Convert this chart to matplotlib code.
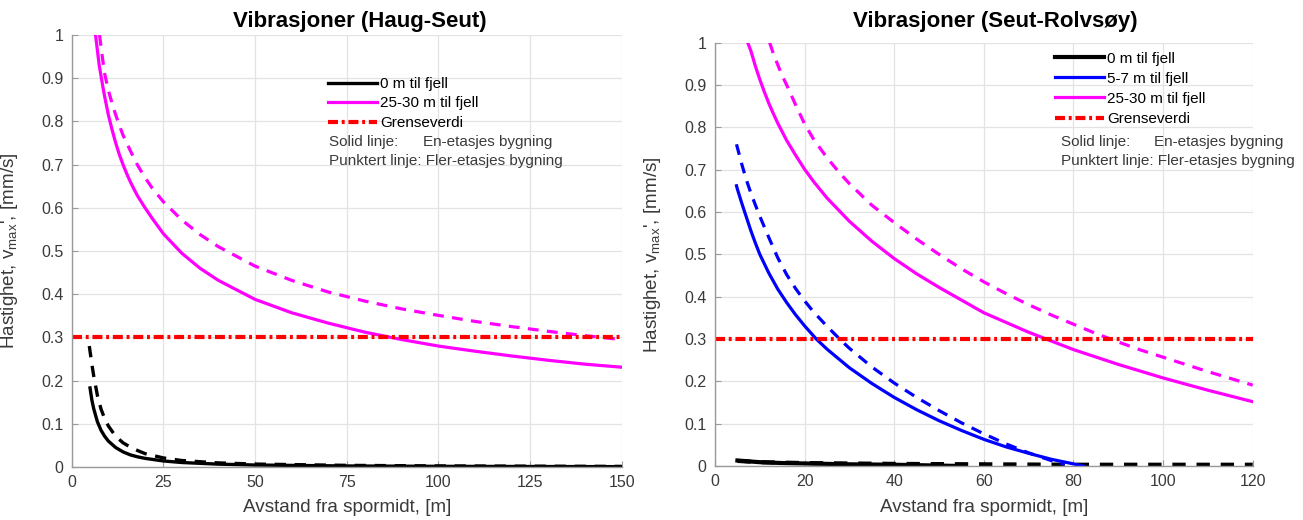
import matplotlib
matplotlib.use("Agg")
import matplotlib.pyplot as plt
from matplotlib.ticker import FuncFormatter

plt.rcParams['font.family'] = ['Liberation Sans', 'DejaVu Sans']
plt.rcParams['mathtext.fontset'] = 'custom'
plt.rcParams['mathtext.rm'] = 'Liberation Sans'
plt.rcParams['mathtext.it'] = 'Liberation Sans'

# ---------------- data: Haug-Seut ----------------
hs_x_mag_solid = [6.5, 7, 7.5, 8, 8.5, 9, 10, 11, 12, 13, 14, 15, 16, 17, 18, 20, 22, 25, 30, 35, 40, 50, 60, 70,
                  80, 90, 100, 110, 120, 130, 140, 150]
hs_y_mag_solid = [1.0, 0.965, 0.93, 0.905, 0.880, 0.857, 0.815, 0.781, 0.75, 0.723, 0.70, 0.679, 0.66, 0.643,
                  0.627, 0.600, 0.575, 0.540, 0.495, 0.460, 0.432, 0.388, 0.357, 0.333, 0.312, 0.295, 0.280,
                  0.268, 0.257, 0.247, 0.238, 0.231]
hs_x_mag_dash = [7.6, 8, 8.5, 9, 10, 11, 12, 13, 14, 15, 16, 18, 20, 22, 25, 30, 35, 40, 50, 60, 70, 80, 90, 100,
                 110, 120, 130, 140, 150]
hs_y_mag_dash = [1.0, 0.972, 0.940, 0.910, 0.872, 0.842, 0.815, 0.791, 0.768, 0.750, 0.732, 0.698, 0.670, 0.645,
                 0.614, 0.572, 0.538, 0.510, 0.465, 0.432, 0.405, 0.384, 0.366, 0.351, 0.337, 0.325, 0.314,
                 0.304, 0.295]
hs_x_blk_solid = [5, 5.5, 6, 7, 8, 9, 10, 12, 14, 16, 18, 20, 25, 30, 40, 50, 75, 100, 125, 150]
hs_y_blk_solid = [0.183, 0.155, 0.135, 0.105, 0.085, 0.071, 0.060, 0.045, 0.035, 0.028, 0.0235, 0.020, 0.014,
                  0.0104, 0.0066, 0.0046, 0.0024, 0.0015, 0.0011, 0.0008]
hs_x_blk_dash = [4.8, 5.5, 6, 7, 8, 9, 10, 12, 14, 16, 18, 20, 25, 30, 40, 50, 75, 100, 125, 150]
hs_y_blk_dash = [0.28, 0.238, 0.211, 0.166, 0.134, 0.112, 0.095, 0.071, 0.056, 0.046, 0.038, 0.031, 0.021, 0.015,
                 0.0095, 0.0068, 0.0038, 0.0025, 0.0019, 0.0014]
hs_xlim = [0, 150]
hs_xticks = [0, 25, 50, 75, 100, 125, 150]

# ---------------- data: Seut-Rolvsøy ----------------
sr_x_mag_solid = [7.3, 8, 9, 10, 11, 12, 13, 14, 16, 18, 20, 22, 25, 30, 35, 40, 45, 50, 60, 70, 80, 90, 100, 110,
                  120]
sr_y_mag_solid = [1.0, 0.981, 0.945, 0.913, 0.884, 0.857, 0.833, 0.810, 0.769, 0.734, 0.701, 0.672, 0.633, 0.578,
                  0.531, 0.490, 0.454, 0.422, 0.362, 0.316, 0.275, 0.240, 0.208, 0.179, 0.152]
sr_x_mag_dash = [12.2, 13, 14, 15, 16, 18, 20, 22, 25, 28, 30, 35, 40, 45, 50, 55, 60, 65, 70, 75, 80, 85, 90, 95,
                 100, 105, 110, 115, 120]
sr_y_mag_dash = [1.0, 0.975, 0.948, 0.922, 0.900, 0.853, 0.808, 0.772, 0.728, 0.690, 0.667, 0.616, 0.575, 0.536,
                 0.500, 0.466, 0.435, 0.407, 0.381, 0.357, 0.335, 0.313, 0.293, 0.274, 0.257, 0.240, 0.223, 0.207,
                 0.191]
sr_x_blue_solid = [4.8, 5, 6, 7, 8, 9, 10, 12, 14, 16, 18, 20, 22.6, 25, 30, 35, 40, 45, 50, 55, 60, 65, 70, 75,
                   80, 82.2]
sr_y_blue_solid = [0.662, 0.654, 0.620, 0.588, 0.556, 0.527, 0.500, 0.456, 0.418, 0.386, 0.357, 0.331, 0.300,
                   0.276, 0.232, 0.195, 0.162, 0.133, 0.107, 0.084, 0.063, 0.045, 0.030, 0.016, 0.005, 0.0]
sr_x_blue_dash = [4.8, 5, 6, 7, 8, 9, 10, 12, 14, 16, 18, 20, 22, 25, 28, 30, 35, 40, 45, 50, 55, 60, 65, 70, 75, 78]
sr_y_blue_dash = [0.760, 0.752, 0.712, 0.676, 0.645, 0.617, 0.590, 0.540, 0.492, 0.452, 0.419, 0.390, 0.364,
                  0.330, 0.298, 0.278, 0.234, 0.196, 0.162, 0.131, 0.102, 0.076, 0.052, 0.031, 0.013, 0.004]
sr_x_blk_solid = [5, 10, 15, 20, 30, 40, 50, 55]
sr_y_blk_solid = [0.013, 0.009, 0.007, 0.006, 0.004, 0.003, 0.001, 0.0]
sr_x_blk_dash = [5, 10, 20, 40, 60, 80, 100, 120]
sr_y_blk_dash = [0.012, 0.009, 0.007, 0.005, 0.004, 0.003, 0.003, 0.003]
sr_xlim = [0, 120]
sr_xticks = [0, 20, 40, 60, 80, 100, 120]

grenseverdi = 0.3
yticks = [0, 0.1, 0.2, 0.3, 0.4, 0.5, 0.6, 0.7, 0.8, 0.9, 1.0]

labels_hs = ["0 m til fjell", "25-30 m til fjell", "Grenseverdi"]
labels_sr = ["0 m til fjell", "5-7 m til fjell", "25-30 m til fjell", "Grenseverdi"]
titles = ["Vibrasjoner (Haug-Seut)", "Vibrasjoner (Seut-Rolvsøy)"]
xlabel = "Avstand fra spormidt, [m]"
ylabel = r"Hastighet, v$_{\mathregular{max}}$', [mm/s]"
note_solid = ("Solid linje:", "En-etasjes bygning")
note_dash = "Punktert linje: Fler-etasjes bygning"

MAG = '#ff00ff'
BLUE = '#0000ff'
RED = '#ff0000'
SPINE = '#9a9a9a'
TXT = '#3a3a3a'

W, H = 1303, 520
fig = plt.figure(figsize=(W / 100, H / 100), dpi=100)


def box(l, r, t, b):
    return [l / W, 1 - b / H, (r - l) / W, (b - t) / H]


ax1 = fig.add_axes(box(71.7, 621.7, 35, 467))
ax2 = fig.add_axes(box(715, 1252.7, 42.7, 466))

DASH = (3.4, 2.6)
DASHDOT = (2.4, 0.9, 0.7, 0.9)


def style(ax, xlim, xticks, h_px):
    ax.set_xlim(xlim)
    ax.set_ylim(0, 1)
    ax.set_xticks(xticks)
    ax.set_yticks(yticks)
    ax.yaxis.set_major_formatter(FuncFormatter(lambda v, p: ('%g' % round(v, 2))))
    ax.grid(True, color='#e3e3e3', lw=0.9)
    ax.set_axisbelow(True)
    for s in ['top', 'right']:
        ax.spines[s].set_visible(False)
    for s in ['left', 'bottom']:
        ax.spines[s].set_color(SPINE)
        ax.spines[s].set_linewidth(1.0)
    ax.tick_params(direction='in', length=4, width=0.8, color=SPINE, labelsize=11.5, labelcolor=TXT, pad=6)
    ax.set_xlabel(xlabel, fontsize=13.6, color=TXT, va='center')
    ax.set_ylabel(ylabel, fontsize=13.6, color=TXT)
    ax.xaxis.set_label_coords(0.5, -41 / h_px)


# ---------- left ----------
style(ax1, hs_xlim, hs_xticks, 432)
ax1.yaxis.set_label_coords(-51.7 / 550, 0.5)
lb1, = ax1.plot(hs_x_blk_solid, hs_y_blk_solid, color='black', lw=2.4)
ax1.plot(hs_x_blk_dash, hs_y_blk_dash, color='black', lw=2.4, dashes=DASH)
lm1, = ax1.plot(hs_x_mag_solid, hs_y_mag_solid, color=MAG, lw=2.3)
ax1.plot(hs_x_mag_dash, hs_y_mag_dash, color=MAG, lw=2.3, dashes=DASH)
lr1, = ax1.plot(hs_xlim, [grenseverdi, grenseverdi], color=RED, lw=3, dashes=DASHDOT)

leg1 = ax1.legend([lb1, lm1, lr1], labels_hs, loc='upper left', bbox_to_anchor=(0.466, 0.903),
                  frameon=False, fontsize=11, handlelength=3.2, handletextpad=0.2, borderpad=0,
                  borderaxespad=0, labelspacing=0.36)
ax1.text(0.467, 0.753, note_solid[0], transform=ax1.transAxes, fontsize=11, color=TXT, va='center', ha='left')
ax1.text(0.638, 0.753, note_solid[1], transform=ax1.transAxes, fontsize=11, color=TXT, va='center', ha='left')
ax1.text(0.467, 0.709, note_dash, transform=ax1.transAxes, fontsize=11, color=TXT, va='center', ha='left')

# ---------- right ----------
style(ax2, sr_xlim, sr_xticks, 423.3)
ax2.yaxis.set_label_coords(-52 / 537.7, 0.5)
lb2, = ax2.plot(sr_x_blk_solid, sr_y_blk_solid, color='black', lw=3)
ax2.plot(sr_x_blk_dash, sr_y_blk_dash, color='black', lw=3, dashes=(3.2, 2.6))
lbl2, = ax2.plot(sr_x_blue_solid, sr_y_blue_solid, color=BLUE, lw=2.3)
ax2.plot(sr_x_blue_dash, sr_y_blue_dash, color=BLUE, lw=2.3, dashes=DASH)
lm2, = ax2.plot(sr_x_mag_solid, sr_y_mag_solid, color=MAG, lw=2.3)
ax2.plot(sr_x_mag_dash, sr_y_mag_dash, color=MAG, lw=2.3, dashes=DASH)
lr2, = ax2.plot(sr_xlim, [grenseverdi, grenseverdi], color=RED, lw=3, dashes=DASHDOT)

leg2 = ax2.legend([lb2, lbl2, lm2, lr2], labels_sr, loc='upper left', bbox_to_anchor=(0.632, 0.979),
                  frameon=False, fontsize=11, handlelength=3.2, handletextpad=0.2, borderpad=0,
                  borderaxespad=0, labelspacing=0.40)
ax2.text(0.643, 0.766, note_solid[0], transform=ax2.transAxes, fontsize=11, color=TXT, va='center', ha='left')
ax2.text(0.817, 0.766, note_solid[1], transform=ax2.transAxes, fontsize=11, color=TXT, va='center', ha='left')
ax2.text(0.643, 0.721, note_dash, transform=ax2.transAxes, fontsize=11, color=TXT, va='center', ha='left')

# titles
fig.text(360 / W, 1 - 22 / H, titles[0], fontsize=16, fontweight='bold', ha='center', va='center')
fig.text(995 / W, 1 - 22 / H, titles[1], fontsize=16, fontweight='bold', ha='center', va='center')

fig.savefig('out.png', dpi=100)
